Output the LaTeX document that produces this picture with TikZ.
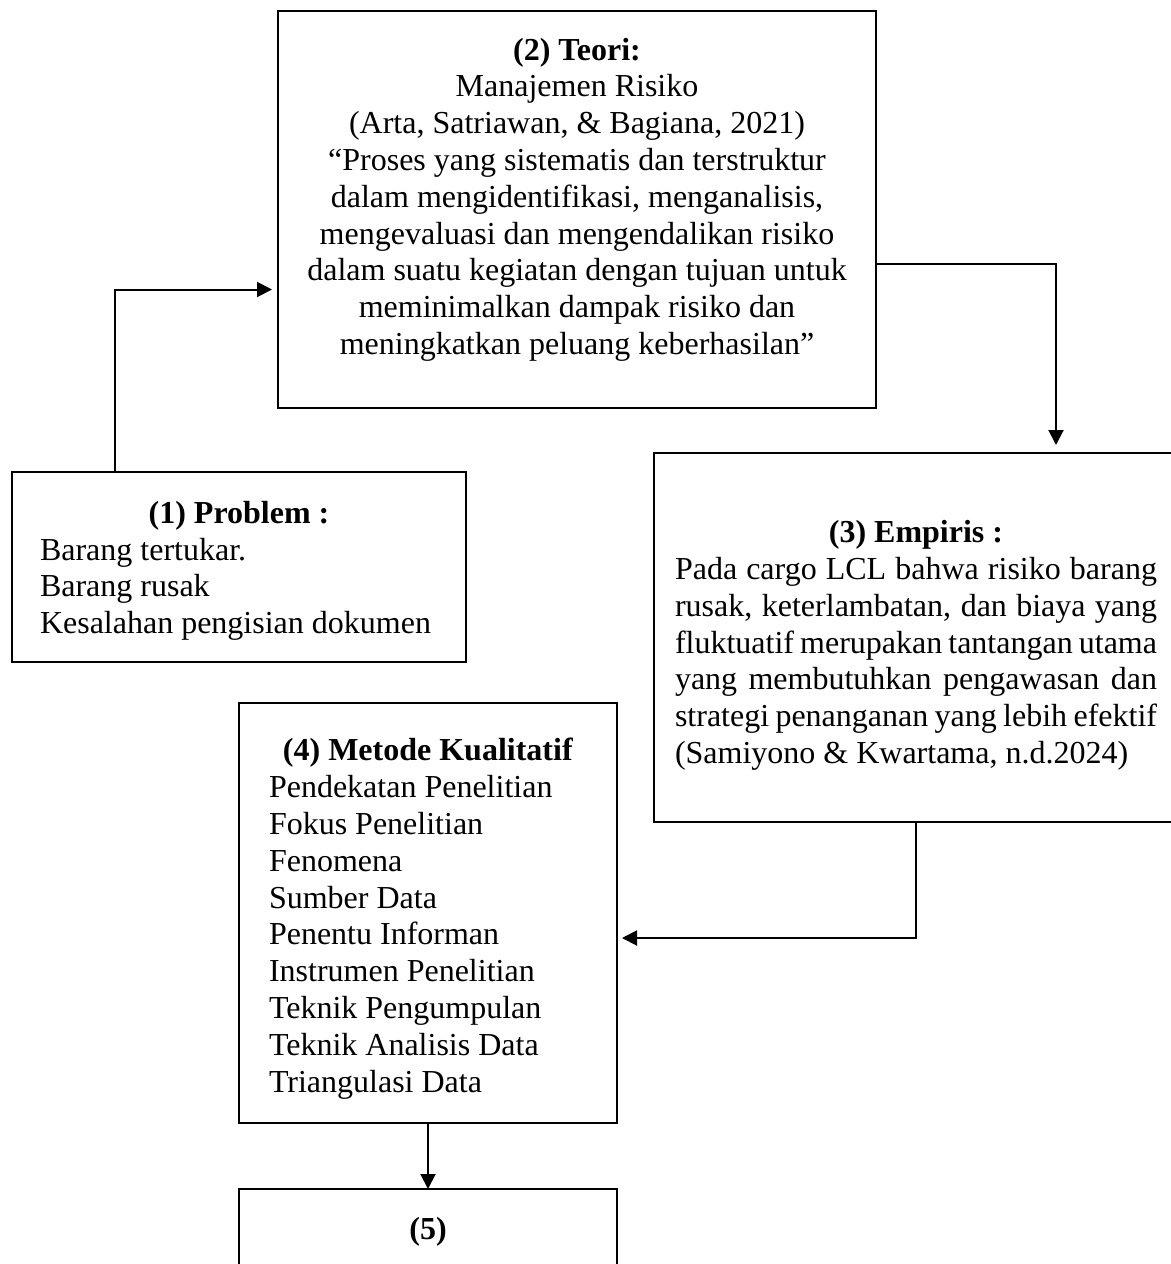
\documentclass[tikz,border=0pt]{standalone}
\usepackage{fontspec}
\setmainfont{Liberation Serif}
\usetikzlibrary{arrows.meta, positioning}

\begin{document}
\begin{tikzpicture}[
  x=0.5pt, y=-0.5pt,
  box/.style={rectangle, draw, line width=1pt, inner ysep=0pt, outer sep=0pt, font=\fontsize{16pt}{18.4pt}\selectfont},
  link/.style={draw, line width=1pt, -{Triangle[length=7.5pt, width=7.5pt]}},
]
  \clip (0,0) rectangle (1171,1264);

  \node[box, anchor=north west, text width=280pt, inner xsep=9.5pt, minimum height=198.5pt, align=flush center] (teori) at (278,11)
    {\textbf{(2) Teori:}\\ Manajemen Risiko\\ (Arta, Satriawan, \& Bagiana, 2021)\\
     “Proses yang sistematis dan terstruktur\\ dalam mengidentifikasi, menganalisis,\\
     mengevaluasi dan mengendalikan risiko\\ dalam suatu kegiatan dengan tujuan untuk\\
     meminimalkan dampak risiko dan\\ meningkatkan peluang keberhasilan”\\[-5pt]\mbox{}};

  \node[box, anchor=north west, text width=199pt, inner xsep=14pt, minimum height=95pt, align=flush left] (prob) at (12,472)
    {\makebox[\linewidth]{\rule{0pt}{15pt}\textbf{(1) Problem :}}\\ Barang tertukar.\\ Barang rusak\\ Kesalahan pengisian dokumen};

  \node[box, anchor=north west, text width=241pt, inner xsep=10.5pt, minimum height=184.5pt, align=justify] (emp) at (654,453)
    {\makebox[\linewidth]{\rule{0pt}{19pt}\textbf{(3) Empiris :}}\\
     Pada cargo LCL bahwa risiko barang\linebreak
     rusak, keterlambatan, dan biaya yang\linebreak
     fluktuatif merupakan tantangan utama\linebreak
     yang membutuhkan pengawasan dan\linebreak
     strategi penanganan yang lebih efektif\linebreak
     (Samiyono \& Kwartama, n.d.2024)};

  \node[box, anchor=north west, text width=159pt, inner xsep=15pt, minimum height=210pt, align=flush left] (meth) at (239,703)
    {\makebox[\linewidth]{\rule{0pt}{17pt}\textbf{(4) Metode Kualitatif}}\\ Pendekatan Penelitian\\ Fokus Penelitian\\
     Fenomena\\ Sumber Data\\ Penentu Informan\\ Instrumen Penelitian\\ Teknik Pengumpulan\\
     Teknik Analisis Data\\ Triangulasi Data};

  \node[box, below=33pt of meth, minimum width=189pt, minimum height=43pt, align=center] (res) {\textbf{(5)}};

  % alur
  \draw[link, shorten >=3pt] ([xshift=51.5pt]prob.north west) |- ([yshift=-40pt]teori.west);
  \draw[link, shorten >=4pt] ([yshift=-27pt]teori.east) -| ([xshift=70pt]emp.north);
  \draw[link, shorten >=2.5pt] (emp.south) |- ([yshift=-12.5pt]meth.east);
  \draw[link] (meth) -- (res);
\end{tikzpicture}
\end{document}
